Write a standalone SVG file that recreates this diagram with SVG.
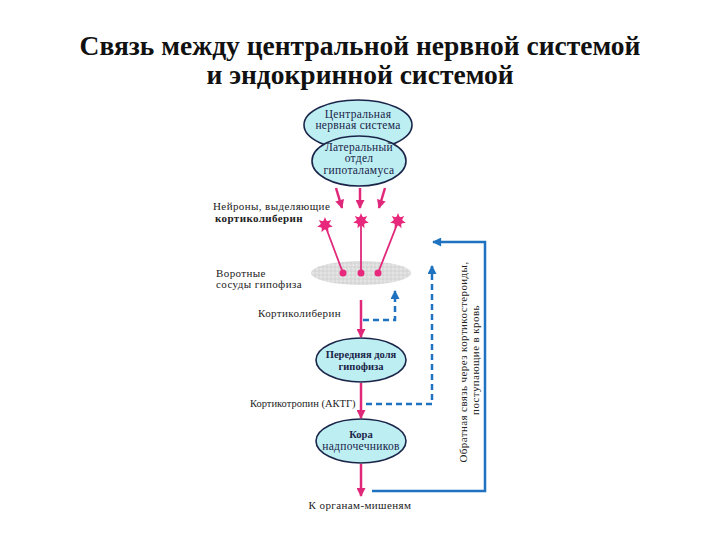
<svg xmlns="http://www.w3.org/2000/svg" width="720" height="540" viewBox="0 0 720 540">
<style>
.title{font-family:"Liberation Serif","DejaVu Serif",serif;font-weight:bold;font-size:27.5px;fill:#111;text-anchor:middle}
.node{fill:#bdeef2;stroke:#1a2448;stroke-width:1.6}
.nt{font-family:"Liberation Serif","DejaVu Serif",serif;font-size:11.5px;letter-spacing:0.3px;fill:#1a2448;text-anchor:middle}
.ntb{font-family:"Liberation Serif","DejaVu Serif",serif;font-size:10.5px;font-weight:bold;fill:#1a2448;text-anchor:middle}
.lbl{font-family:"Liberation Serif","DejaVu Serif",serif;font-size:11px;letter-spacing:0.4px;fill:#222}
.lbl2{font-family:"Liberation Serif","DejaVu Serif",serif;font-size:10.5px;fill:#222}
.pk{stroke:#e0287a;stroke-width:2.5;fill:none}
.pkl{stroke:#e0287a;stroke-width:1.8;fill:none}
.bl{stroke:#1f72bf;stroke-width:2.5;fill:none}
.bd{stroke:#1f72bf;stroke-width:2.5;fill:none;stroke-dasharray:6 4}
.star{fill:#e8287c}
</style>
<defs>
<marker id="ap" viewBox="0 0 10 10" refX="9" refY="5" markerWidth="11" markerHeight="9" markerUnits="userSpaceOnUse" orient="auto"><path d="M0,0 L10,5 L0,10 z" fill="#e0287a"/></marker>
<marker id="ab" viewBox="0 0 10 10" refX="9" refY="5" markerWidth="11" markerHeight="9" markerUnits="userSpaceOnUse" orient="auto"><path d="M0,0 L10,5 L0,10 z" fill="#1f72bf"/></marker>
<pattern id="speck" width="4" height="4" patternUnits="userSpaceOnUse"><rect width="4" height="4" fill="#dcdcdc"/><circle cx="1" cy="1" r="0.7" fill="#f4f4f4"/><circle cx="3" cy="3" r="0.6" fill="#c4c4c4"/></pattern>
<g id="starShape"><polygon points="0,-8 1.74,-3.6 6.25,-4.99 3.9,-0.89 7.8,1.78 3.13,2.49 3.47,7.21 0,4 -3.47,7.21 -3.13,2.49 -7.8,1.78 -3.9,-0.89 -6.25,-4.99 -1.74,-3.6"/><circle r="4.5"/></g>
</defs>
<rect width="720" height="540" fill="#fff"/>
<g id="title">
<text class="title" x="360" y="55">Связь между центральной нервной системой</text>
<text class="title" x="360" y="84">и эндокринной системой</text>
</g>
<g id="cns"><ellipse class="node" cx="358" cy="125" rx="54" ry="25"/>
<text class="nt" x="358" y="118">Центральная</text><text class="nt" x="358" y="129">нервная система</text></g>
<g id="hypothalamus"><ellipse class="node" cx="359" cy="161" rx="47" ry="25"/>
<text class="nt" x="359" y="151">Латеральный</text><text class="nt" x="359" y="162">отдел</text><text class="nt" x="359" y="174">гипоталамуса</text></g>
<g id="portal"><ellipse cx="361" cy="273" rx="50" ry="12" fill="url(#speck)"/></g>
<g id="pituitary"><ellipse class="node" cx="361" cy="360" rx="45" ry="22"/>
<text class="ntb" x="361" y="358">Передняя доля</text><text class="ntb" x="361" y="370">гипофиза</text></g>
<g id="adrenal"><ellipse class="node" cx="361" cy="441" rx="45" ry="22"/>
<text class="ntb" x="361" y="438">Кора</text><text class="nt" x="361" y="450">надпочечников</text></g>
<g id="connectors">
<line class="pk" x1="336" y1="188" x2="342" y2="208" marker-end="url(#ap)"/>
<line class="pk" x1="360" y1="188" x2="360" y2="208" marker-end="url(#ap)"/>
<line class="pk" x1="385" y1="188" x2="379" y2="208" marker-end="url(#ap)"/>
<line class="pkl" x1="325" y1="225" x2="343" y2="273"/>
<line class="pkl" x1="361" y1="222" x2="361" y2="273"/>
<line class="pkl" x1="398" y1="222" x2="378" y2="273"/>
<line class="pk" x1="361" y1="300" x2="361" y2="337" marker-end="url(#ap)"/>
<polyline class="bd" points="363,320 395,320 395,291" marker-end="url(#ab)"/>
<line class="pk" x1="361" y1="383" x2="361" y2="418" marker-end="url(#ap)"/>
<polyline class="bd" points="366,404 432,404 432,266" marker-end="url(#ab)"/>
<line class="pk" x1="361" y1="464" x2="361" y2="496" marker-end="url(#ap)"/>
<polyline class="bl" points="372,491 485,491 485,242 433,242" marker-end="url(#ab)"/>
</g>
<g id="neurons">
<use href="#starShape" class="star" x="325" y="225"/>
<use href="#starShape" class="star" x="361" y="221"/>
<use href="#starShape" class="star" x="398" y="221"/>
<circle class="star" cx="343" cy="273" r="3.5"/>
<circle class="star" cx="361" cy="273" r="3.5"/>
<circle class="star" cx="378" cy="273" r="3.5"/>
</g>
<g id="labels">
<text class="lbl" x="213" y="210">Нейроны, выделяющие</text>
<text class="lbl" x="215" y="222" font-weight="bold">кортиколиберин</text>
<text class="lbl" x="216" y="277">Воротные</text>
<text class="lbl" x="216" y="288">сосуды гипофиза</text>
<text class="lbl" x="258" y="317">Кортиколиберин</text>
<text class="lbl2" x="250" y="407">Кортикотропин (АКТГ)</text>
<text class="lbl" x="360" y="509" text-anchor="middle">К органам-мишеням</text>
<text class="lbl" transform="translate(467,362) rotate(-90)" text-anchor="middle">Обратная связь через кортикостероиды,</text>
<text class="lbl" transform="translate(479,360) rotate(-90)" text-anchor="middle">поступающие в кровь</text>
</g>
</svg>
